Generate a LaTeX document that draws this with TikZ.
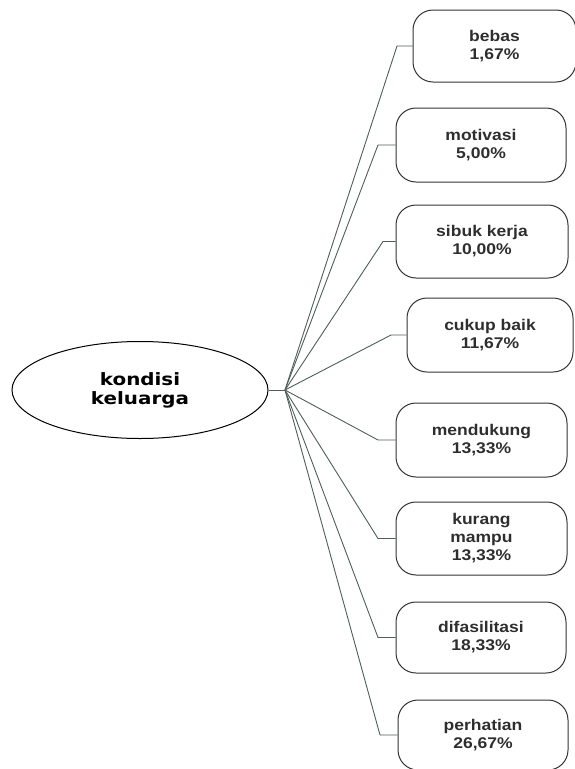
\documentclass[tikz,border=0pt]{standalone}
\usepackage{fontspec}
\setmainfont{Liberation Sans}
\newfontfamily\boxfont[FakeStretch=1.13]{Liberation Sans}
\newfontfamily\ellfont[FakeStretch=1.17]{DejaVu Sans}
\usetikzlibrary{shapes.geometric}
\definecolor{linec}{HTML}{4E5E5A}
\definecolor{boxline}{HTML}{333333}
\definecolor{txt}{HTML}{2E2E2E}
\tikzset{
  catbox/.style={draw=boxline, line width=1pt, rounded corners=20pt, align=center,
    inner sep=0pt, text=txt, font=\boxfont\bfseries\fontsize{15.5}{18}\selectfont},
  mainell/.style={draw=black, line width=1pt, ellipse, inner sep=0pt, align=center,
    minimum width=256pt, minimum height=97pt, font=\ellfont\bfseries\fontsize{17}{19}\selectfont},
  conn/.style={draw=linec, line width=0.9pt}
}
\begin{document}
\begin{tikzpicture}[x=1pt,y=-1pt]
\useasboundingbox (0,0) rectangle (574,769);
\node[mainell] (main) at (140,390) {kondisi\\keluarga};
\coordinate (hub) at (285,390);
\node[catbox, minimum width=163pt, minimum height=72pt] (b1) at (494.5,46) {bebas\\1,67\%};
\node[catbox, minimum width=170pt, minimum height=74pt] (b2) at (481,145) {motivasi\\5,00\%};
\node[catbox, minimum width=172pt, minimum height=73pt] (b3) at (482,241.5) {sibuk kerja\\10,00\%};
\node[catbox, minimum width=166pt, minimum height=74pt] (b4) at (490,335) {cukup baik\\11,67\%};
\node[catbox, minimum width=171pt, minimum height=74pt] (b5) at (481.5,440) {mendukung\\13,33\%};
\node[catbox, minimum width=171pt, minimum height=73pt] (b6) at (481.5,538.5) {kurang\\mampu\\13,33\%};
\node[catbox, minimum width=170pt, minimum height=71pt] (b7) at (481,637.5) {difasilitasi\\18,33\%};
\node[catbox, minimum width=170pt, minimum height=70pt] (b8) at (483,735) {perhatian\\26,67\%};
\coordinate (e1) at (397,46);
\coordinate (e2) at (378,145);
\coordinate (e3) at (383,241.5);
\coordinate (e4) at (391,335);
\coordinate (e5) at (378,440);
\coordinate (e6) at (378,538.5);
\coordinate (e7) at (378,637.5);
\coordinate (e8) at (380,735);
\draw[conn] (main) -- (hub);
\foreach \i in {1,...,8} {
  \draw[conn] (hub) -- (e\i) -- (b\i.west);
}
\end{tikzpicture}
\end{document}
